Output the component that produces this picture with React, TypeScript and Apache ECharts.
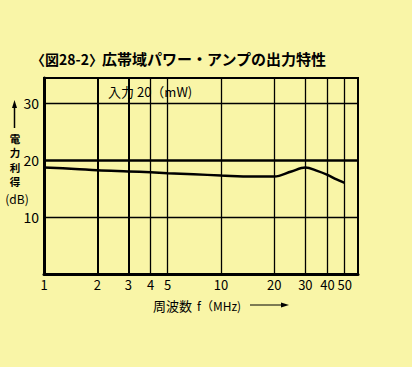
import React, { useEffect, useRef } from "react";
import * as echarts from "echarts";

const freqMHz = [1, 1.5, 2, 3, 4, 5, 7, 10, 15, 20, 25, 30, 35, 40, 45, 50];
const gainDb = [18.7, 18.45, 18.2, 18.0, 17.85, 17.7, 17.5, 17.3, 17.1, 17.1, 18.0, 18.7, 18.1, 17.4, 16.6, 16.0];
const xGridValues = [1, 2, 3, 4, 5, 10, 20, 30, 40, 50];
const yGridValues = [10, 20, 30];

const title = "〈図28-2〉";
const titleMain = "広帯域パワー・アンプの出力特性";
const noteText = "入力 20（mW)";
const yName = ["電", "力", "利", "得"];
const yUnit = "(dB)";
const xName = "周波数";
const xUnit = "f（MHz)";

const FONT = "'Noto Sans CJK JP', 'Noto Sans', sans-serif";

export default function App() {
  const ref = useRef<HTMLDivElement>(null);
  useEffect(() => {
    if (!ref.current) return;
    const chart = echarts.init(ref.current, undefined, { renderer: "svg" });
    const data = freqMHz.map((f, i) => [f, gainDb[i]]);
    const option: any = {
      animation: false,
      backgroundColor: "#F9F5A7",
      textStyle: { fontFamily: FONT },
      grid: {
        left: 44,
        right: 54,
        top: 78,
        bottom: 93,
        show: true,
        borderColor: "#000",
        borderWidth: 2,
        backgroundColor: "transparent",
      },
      xAxis: {
        type: "log",
        logBase: 10,
        min: 1,
        max: 59.5,
        axisLine: { show: true, lineStyle: { color: "#000", width: 3 } },
        axisTick: { show: false },
        axisLabel: { show: false },
        splitLine: { show: false },
        minorSplitLine: { show: false },
      },
      yAxis: {
        type: "value",
        min: 0,
        max: 34.4,
        interval: 10,
        axisLine: { show: true, lineStyle: { color: "#000", width: 3 } },
        axisTick: { show: false },
        splitLine: { show: false },
        axisLabel: {
          margin: 5,
          color: "#000",
          fontSize: 14,
          fontFamily: FONT,
          formatter: (v: number) => (yGridValues.includes(v) ? String(v) : ""),
        },
      },
      graphic: [
        {
          type: "text",
          left: 31,
          top: 52,
          style: { text: title, font: `bold 14px ${FONT}`, fill: "#000" },
        },
        {
          type: "text",
          left: 102,
          top: 51,
          style: { text: titleMain, font: `bold 15px ${FONT}`, fill: "#000" },
        },
        {
          type: "text",
          left: 108,
          top: 85,
          style: { text: noteText, font: `13px ${FONT}`, fill: "#000" },
        },
        {
          type: "line",
          shape: { x1: 14.5, y1: 106, x2: 14.5, y2: 128 },
          style: { stroke: "#000", lineWidth: 1.5 },
        },
        {
          type: "polygon",
          shape: { points: [[14.5, 100], [12, 108], [17, 108]] },
          style: { fill: "#000" },
        },
        ...yName.map((ch, i) => ({
          type: "text",
          x: 15,
          y: 138 + i * 14.5,
          style: {
            text: ch,
            font: `bold 10.5px ${FONT}`,
            fill: "#000",
            align: "center",
            verticalAlign: "middle",
            lineHeight: 10.5,
          },
        })),
        {
          type: "text",
          x: 17,
          y: 198,
          style: { text: yUnit, font: `12px ${FONT}`, fill: "#000", align: "center", verticalAlign: "middle" },
        },
        {
          type: "text",
          x: 153,
          y: 305,
          style: { text: xName, font: `13px ${FONT}`, fill: "#000", verticalAlign: "middle" },
        },
        {
          type: "text",
          x: 197,
          y: 305,
          style: { text: xUnit, font: `12px ${FONT}`, fill: "#000", verticalAlign: "middle" },
        },
        {
          type: "line",
          shape: { x1: 250, y1: 305, x2: 284, y2: 305 },
          style: { stroke: "#000", lineWidth: 1 },
        },
        {
          type: "polygon",
          shape: { points: [[289, 305], [281, 302.5], [281, 307.5]] },
          style: { fill: "#000" },
        },
      ],
      series: [
        {
          type: "line",
          data,
          smooth: 0.35,
          showSymbol: false,
          symbol: "none",
          lineStyle: { color: "#000", width: 2.5 },
          z: 5,
          markLine: {
            silent: true,
            symbol: "none",
            animation: false,
            data: [
              ...xGridValues.map((v) => ({
                xAxis: v,
                lineStyle: { color: "#000", width: v === 2 || v === 3 ? 2 : 1.3, type: "solid" },
                label: {
                  show: true,
                  position: "start",
                  distance: 4,
                  color: "#000",
                  fontSize: 13,
                  fontFamily: FONT,
                  formatter: () => String(v),
                },
              })),
              ...yGridValues.map((v) => ({
                yAxis: v,
                lineStyle: { color: "#000", width: v === 20 ? 2.5 : 1.3, type: "solid" },
                label: { show: false },
              })),
            ],
          },
        },
      ],
    };
    chart.setOption(option);
    return () => chart.dispose();
  }, []);
  return (
    <div
      ref={ref}
      style={{ position: "absolute", left: 0, top: 0, width: 412, height: 367 }}
    />
  );
}
